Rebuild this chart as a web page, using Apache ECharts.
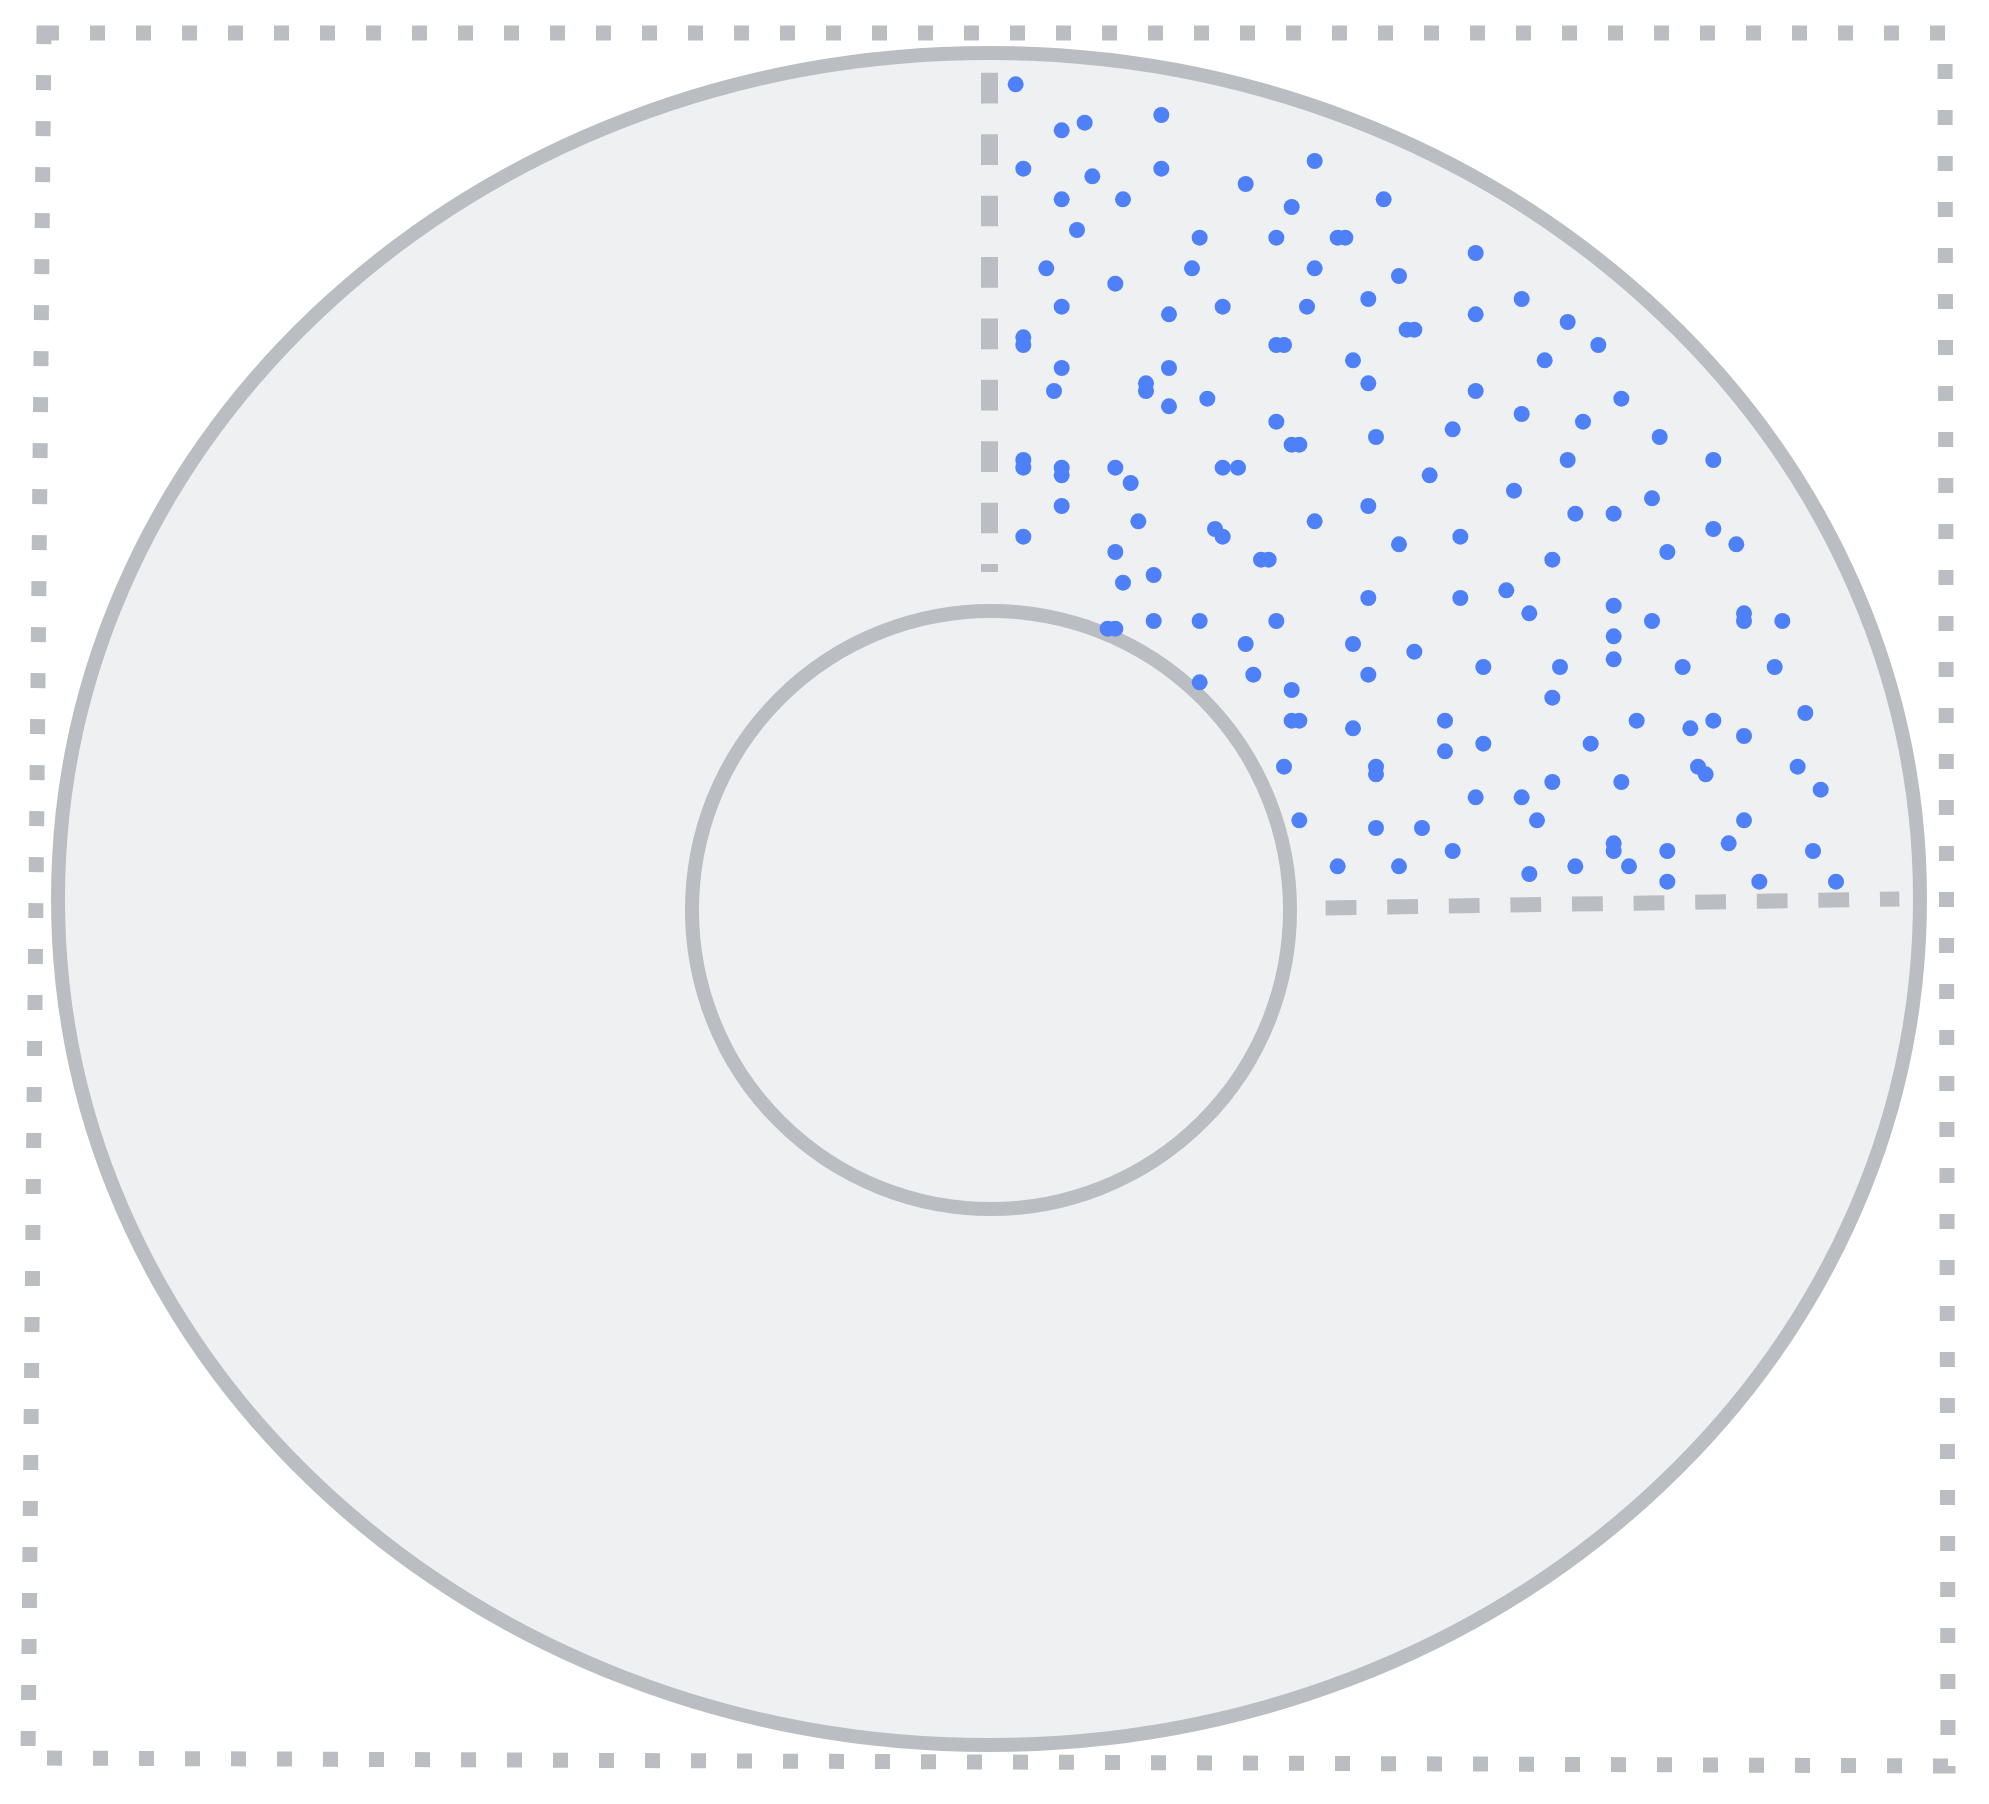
<!DOCTYPE html>
<html>
<head>
<meta charset="utf-8">
<script src="https://cdn.jsdelivr.net/npm/echarts@6/dist/echarts.min.js"></script>
<style>
  html, body { margin: 0; padding: 0; background: #ffffff; }
  #chart { width: 1989px; height: 1804px; }
</style>
</head>
<body>
<div id="chart"></div>
<script>
// Axis ranges (data units)
const xRange = [-128, 122];
const yRange = [-115, 110];

// Scatter points [x, y] (column, row-from-bottom)
const pointsTop = [
  [0,104],[6,98],[9,99],[19,100],[1,93],[10,92],[19,93],[39,94],[30,91],[6,89],[14,89],[36,88],[48,89],
  [8,85],[24,84],[34,84],[42,84],[43,84],[4,80],[23,80],[39,80],[50,79],[13,78],[6,75],[20,74],[27,75],
  [38,75],[46,76],[1,71],[1,70],[34,70],[35,70],[51,72],[52,72],[6,67],[20,67],[44,68],[5,64],[17,65],
  [17,64],[20,62],[25,63],[46,65],[34,60],[47,58],[36,57],[37,57],[1,55],[1,54],[6,54],[6,53],[13,54],
  [15,52],[27,54],[29,54],[54,53]
];
const pointsUpperRight = [
  [60,82],[66,76],[60,74],[72,73],[76,70],[69,68],[60,64],[66,61],[79,63],[57,59],[74,60],[84,58],
  [72,55],[91,55]
];
const pointsLowerLeft = [
  [6,49],[16,47],[1,45],[26,46],[27,45],[39,47],[46,49],[13,43],[50,44],[32,42],[33,42],[14,39],[18,40],
  [46,37],[12,33],[13,33],[18,34],[24,34],[34,34],[30,31],[44,31],[52,30],[24,26],[31,27],[46,27],
  [36,25],[36,21],[37,21],[44,20],[35,15],[47,15],[47,14],[37,8],[47,7],[53,7],[42,2],[50,2]
];
const pointsLowerRight = [
  [65,51],[83,50],[73,48],[78,48],[58,45],[91,46],[94,44],[85,43],[70,42],[58,37],[64,38],[67,35],
  [78,36],[83,34],[95,35],[95,34],[100,34],[78,32],[78,29],[61,28],[71,28],[87,28],[99,28],[70,24],
  [56,21],[81,21],[88,20],[91,21],[103,22],[95,19],[56,17],[61,18],[75,18],[89,15],[90,14],[102,15],
  [105,12],[70,13],[79,13],[60,11],[66,11],[68,8],[95,8],[57,4],[78,5],[78,4],[85,4],[93,5],[104,4],
  [73,2],[80,2],[67,1],[85,0],[97,0],[107,0]
];
const points = pointsTop.concat(pointsUpperRight, pointsLowerLeft, pointsLowerRight);

// Reference lines (data units)
const radialLineX = -3.48;
const radialLineY = [105.5, 40.4];
const angleLineX = [40.43, 115.26];
const angleLineY = [-3.43, -2.26];

const GRAY = '#babdc2';
const FILL = '#eff0f2';

const chart = echarts.init(document.getElementById('chart'), null, { renderer: 'canvas' });
chart.setOption({
  animation: false,
  backgroundColor: '#ffffff',
  grid: {
    left: 34.333, right: 38, top: 38.333, bottom: 40.667,
    outerBoundsMode: 'none',
    show: false
  },
  xAxis: {
    type: 'value', min: xRange[0], max: xRange[1],
    axisLine: { show: false }, axisTick: { show: false },
    axisLabel: { show: false }, splitLine: { show: false }
  },
  yAxis: {
    type: 'value', min: yRange[0], max: yRange[1],
    axisLine: { show: false }, axisTick: { show: false },
    axisLabel: { show: false }, splitLine: { show: false }
  },
  graphic: {
    elements: [
      {
        type: 'polygon', z: 0, silent: true,
        shape: { points: [[44, 33], [1945, 33], [1948, 1766], [28, 1758]] },
        style: { fill: 'none', stroke: GRAY, lineWidth: 15, lineDash: [15, 31], lineCap: 'butt' }
      },
      {
        type: 'ellipse', z: 0, silent: true,
        shape: { cx: 989, cy: 899, rx: 931, ry: 846 },
        style: { fill: FILL, stroke: GRAY, lineWidth: 14 }
      },
      {
        type: 'circle', z: 0, silent: true,
        shape: { cx: 991, cy: 910, r: 299 },
        style: { fill: FILL, stroke: GRAY, lineWidth: 14 }
      }
    ]
  },
  series: [
    {
      type: 'scatter',
      z: 5,
      symbol: 'circle',
      symbolSize: 16,
      itemStyle: { color: '#4e80f8', opacity: 1 },
      data: points,
      markLine: {
        silent: true,
        symbol: ['none', 'none'],
        label: { show: false },
        data: [
          [{ coord: [radialLineX, radialLineY[0]], lineStyle: { color: GRAY, width: 17, type: [30.7, 30.7], cap: 'butt' } },
           { coord: [radialLineX, radialLineY[1]] }],
          [{ coord: [angleLineX[0], angleLineY[0]], lineStyle: { color: GRAY, width: 15, type: [30.8, 30.8], cap: 'butt' } },
           { coord: [angleLineX[1], angleLineY[1]] }]
        ]
      }
    }
  ]
});
</script>
</body>
</html>
